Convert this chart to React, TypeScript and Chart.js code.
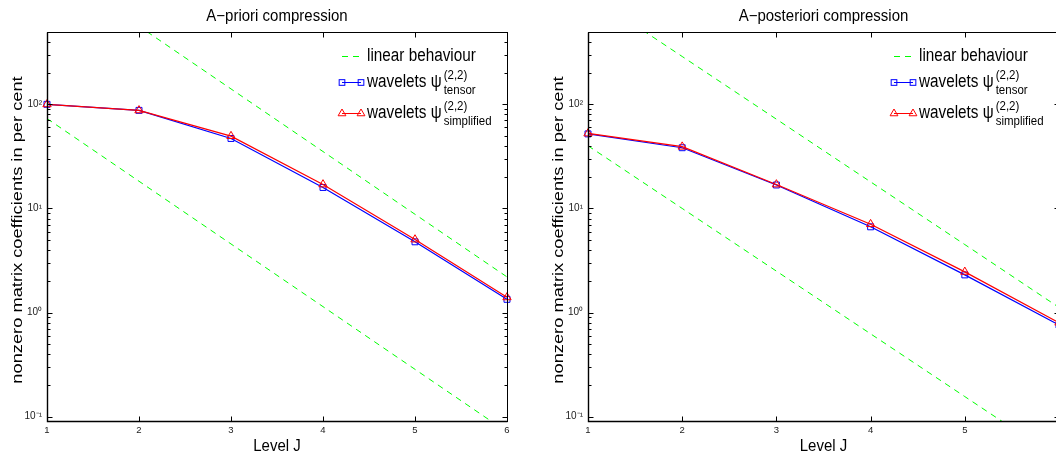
import React, { useEffect, useRef } from 'react';
import { Chart, registerables } from 'chart.js';
Chart.register(...registerables);

// ---------- data ----------
const levels = [1, 2, 3, 4, 5, 6];
const xTickLabels = ['1', '2', '3', '4', '5', '6'];
const yTickValues = [0.1, 1, 10, 100];
const yTickLabels = ['10\u207B\u00B9', '10\u2070', '10\u00B9', '10\u00B2'];

const aprioriTensor = [100, 87.5, 47, 15.9, 4.78, 1.34];
const aprioriSimplified = [100, 87.5, 49.5, 17, 5.03, 1.4];
const aprioriLinearUpper = [2250, 562, 140.6, 35.2, 8.79, 2.2];
const aprioriLinearLower = [73, 18.25, 4.56, 1.14, 0.285, 0.0713];

const aposterioriTensor = [52, 38.3, 16.8, 6.66, 2.3, 0.76];
const aposterioriSimplified = [52.5, 39.2, 17, 7.06, 2.46, 0.8];
const aposterioriLinearUpper = [1150, 288, 72, 18, 4.5, 1.12];
const aposterioriLinearLower = [40, 10, 2.5, 0.625, 0.156, 0.039];

const titles = ['A\u2212priori compression', 'A\u2212posteriori compression'];
const xLabel = 'Level J';
const yLabel = 'nonzero matrix coefficients in per cent';
const legendLinear = 'linear behaviour';
const legendWavelets = 'wavelets \u03C8';
const legendSup = '(2,2)';
const legendSubTensor = 'tensor';
const legendSubSimplified = 'simplified';

const FONT = '"Liberation Sans", Arial, Helvetica, sans-serif';
const BLUE = '#0000ff';
const RED = '#ff0000';
const GREEN = '#00ff00';

function drawText(
  ctx: CanvasRenderingContext2D,
  text: string,
  x: number,
  y: number,
  size: number,
  align: CanvasTextAlign,
  sx = 1,
  sy = 1,
  rot = 0
) {
  ctx.save();
  ctx.translate(x, y);
  if (rot) ctx.rotate(rot);
  ctx.scale(sx, sy);
  ctx.font = `${size}px ${FONT}`;
  ctx.textAlign = align;
  ctx.textBaseline = 'middle';
  ctx.fillStyle = '#000';
  ctx.fillText(text, 0, 0);
  ctx.restore();
}

function measure(ctx: CanvasRenderingContext2D, text: string, size: number, sx = 1) {
  ctx.save();
  ctx.font = `${size}px ${FONT}`;
  const w = ctx.measureText(text).width * sx;
  ctx.restore();
  return w;
}

function drawSquare(ctx: CanvasRenderingContext2D, x: number, y: number, r: number) {
  const s = r * Math.SQRT1_2;
  ctx.strokeRect(x - s, y - s, 2 * s, 2 * s);
}

function drawTriangle(ctx: CanvasRenderingContext2D, x: number, y: number, r: number) {
  ctx.beginPath();
  let a = 0;
  ctx.moveTo(x + Math.sin(a) * r, y - Math.cos(a) * r);
  a += (2 * Math.PI) / 3;
  ctx.lineTo(x + Math.sin(a) * r, y - Math.cos(a) * r);
  a += (2 * Math.PI) / 3;
  ctx.lineTo(x + Math.sin(a) * r, y - Math.cos(a) * r);
  ctx.closePath();
  ctx.stroke();
}

function makeDecor(title: string) {
  return {
    id: 'decor',
    afterDraw(chart: any) {
      const { ctx, chartArea: a, scales } = chart;
      const xs = scales.x;
      const ys = scales.y;
      ctx.save();
      ctx.strokeStyle = '#000';
      ctx.lineWidth = 1;
      ctx.setLineDash([]);
      const L = Math.floor(a.left) + 0.5;
      const R = Math.floor(a.right) + 0.5;
      const T = Math.floor(a.top) + 0.5;
      const B = Math.floor(a.bottom) + 0.5;
      ctx.strokeRect(L, T, R - L, B - T);
      ctx.lineWidth = 1.4;
      ctx.beginPath();
      ctx.moveTo(L, T);
      ctx.lineTo(L, B);
      ctx.lineTo(R, B);
      ctx.stroke();
      ctx.lineWidth = 1;
      ctx.beginPath();
      for (const v of levels) {
        const px = Math.round(xs.getPixelForValue(v)) + 0.5;
        ctx.moveTo(px, B);
        ctx.lineTo(px, B - 5);
        ctx.moveTo(px, T);
        ctx.lineTo(px, T + 5);
      }
      const decades = [0.01, 0.1, 1, 10, 100, 1000];
      for (const d of decades) {
        for (let m = 1; m <= 9; m++) {
          const v = d * m;
          if (v < ys.min || v > ys.max) continue;
          const len = m === 1 ? 5 : 3;
          const py = Math.round(ys.getPixelForValue(v)) + 0.5;
          ctx.moveTo(L, py);
          ctx.lineTo(L + len, py);
          ctx.moveTo(R, py);
          ctx.lineTo(R - len, py);
        }
      }
      ctx.stroke();

      const cx = (a.left + a.right) / 2;
      drawText(ctx, title, cx, 16.7, 15, 'center', 1, 1.05);
      drawText(ctx, xLabel, cx, 446.5, 15, 'center', 1, 1.15);
      drawText(ctx, yLabel, a.left - 29, 230, 14.5, 'center', 1.26, 1, -Math.PI / 2);

      // legend
      const tx = a.right - 140;
      const r1 = a.top + 24;
      const r2 = a.top + 50;
      const r3 = a.top + 81;
      const s0 = tx - 25;
      const s1 = tx - 6;
      ctx.lineWidth = 1;
      ctx.strokeStyle = GREEN;
      ctx.setLineDash([6, 5]);
      ctx.beginPath();
      ctx.moveTo(s0, r1 + 0.5);
      ctx.lineTo(s1, r1 + 0.5);
      ctx.stroke();
      ctx.setLineDash([]);
      ctx.strokeStyle = BLUE;
      ctx.beginPath();
      ctx.moveTo(s0, r2 + 0.5);
      ctx.lineTo(s1, r2 + 0.5);
      ctx.stroke();
      drawSquare(ctx, s0, r2 + 0.5, 4);
      drawSquare(ctx, s1, r2 + 0.5, 4);
      ctx.strokeStyle = RED;
      ctx.beginPath();
      ctx.moveTo(s0, r3 + 0.5);
      ctx.lineTo(s1, r3 + 0.5);
      ctx.stroke();
      drawTriangle(ctx, s0, r3 + 0.5, 4.5);
      drawTriangle(ctx, s1, r3 + 0.5, 4.5);

      const fs = 15.3;
      const sy = 1.15;
      drawText(ctx, legendLinear, tx, r1, fs, 'left', 1, sy);
      const ww = measure(ctx, legendWavelets, fs);
      drawText(ctx, legendWavelets, tx, r2, fs, 'left', 1, sy);
      drawText(ctx, legendSup, tx + ww + 2, r2 - 7, 11.5, 'left', 1, 1.15);
      drawText(ctx, legendSubTensor, tx + ww + 2, r2 + 8, 11.5, 'left', 1, 1.15);
      drawText(ctx, legendWavelets, tx, r3, fs, 'left', 1, sy);
      drawText(ctx, legendSup, tx + ww + 2, r3 - 7, 11.5, 'left', 1, 1.15);
      drawText(ctx, legendSubSimplified, tx + ww + 2, r3 + 8, 11.5, 'left', 1, 1.15);
      ctx.restore();
    },
  };
}

type PanelCfg = {
  title: string;
  tensor: number[];
  simplified: number[];
  upper: number[];
  lower: number[];
};

function pts(vals: number[]) {
  return levels.map((x, i) => ({ x, y: vals[i] }));
}

function buildConfig(cfg: PanelCfg): any {
  return {
    type: 'line',
    data: {
      datasets: [
        {
          label: 'wavelets simplified',
          data: pts(cfg.simplified),
          borderColor: RED,
          borderWidth: 1.2,
          pointStyle: 'triangle',
          pointRadius: 4.8,
          pointBorderColor: RED,
          pointBackgroundColor: 'rgba(0,0,0,0)',
          pointBorderWidth: 1,
          clip: false,
          order: 0,
        },
        {
          label: 'wavelets tensor',
          data: pts(cfg.tensor),
          borderColor: BLUE,
          borderWidth: 1.2,
          pointStyle: 'rect',
          pointRadius: 4.2,
          pointBorderColor: BLUE,
          pointBackgroundColor: 'rgba(0,0,0,0)',
          pointBorderWidth: 1,
          clip: false,
          order: 1,
        },
        {
          label: 'linear behaviour',
          data: pts(cfg.upper),
          borderColor: GREEN,
          borderWidth: 1,
          borderDash: [6, 5],
          pointRadius: 0,
          order: 2,
        },
        {
          label: 'linear behaviour (lower)',
          data: pts(cfg.lower),
          borderColor: GREEN,
          borderWidth: 1,
          borderDash: [6, 5],
          pointRadius: 0,
          order: 3,
        },
      ],
    },
    options: {
      animation: false,
      responsive: false,
      devicePixelRatio: 1,
      layout: { padding: { top: 32, right: 23, bottom: 0, left: 0 } },
      plugins: {
        legend: { display: false },
        title: { display: false },
        tooltip: { enabled: false },
      },
      scales: {
        x: {
          type: 'linear',
          min: 1,
          max: 6,
          grid: { display: false, drawTicks: false },
          border: { display: false },
          ticks: {
            stepSize: 1,
            padding: 4,
            color: '#222',
            font: { size: 9.5, family: FONT },
            callback: (v: number) => {
              const i = levels.indexOf(v);
              return i >= 0 ? xTickLabels[i] : '';
            },
          },
          afterFit: (s: any) => {
            s.height = 34;
          },
        },
        y: {
          type: 'logarithmic',
          min: 0.0909,
          max: 495,
          grid: { display: false, drawTicks: false },
          border: { display: false },
          afterBuildTicks: (s: any) => {
            s.ticks = yTickValues.map((v) => ({ value: v }));
          },
          ticks: {
            padding: 5,
            color: '#222',
            font: { size: 10, family: FONT },
            callback: (v: number) => {
              const i = yTickValues.indexOf(v);
              return i >= 0 ? yTickLabels[i] : '';
            },
          },
          afterFit: (s: any) => {
            s.width = 47;
          },
        },
      },
    },
    plugins: [makeDecor(cfg.title)],
  };
}

function Panel({ left, width, cfg }: { left: number; width: number; cfg: PanelCfg }) {
  const ref = useRef<HTMLCanvasElement>(null);
  useEffect(() => {
    const chart = new Chart(ref.current as HTMLCanvasElement, buildConfig(cfg));
    return () => chart.destroy();
  }, []);
  return (
    <canvas
      ref={ref}
      width={width}
      height={455}
      style={{ position: 'absolute', left, top: 0, width, height: 455 }}
    />
  );
}

export default function App() {
  return (
    <div
      style={{
        position: 'fixed',
        left: 0,
        top: 0,
        width: 1056,
        height: 455,
        overflow: 'hidden',
        background: '#fff',
      }}
    >
      <Panel
        left={0}
        width={530}
        cfg={{
          title: titles[0],
          tensor: aprioriTensor,
          simplified: aprioriSimplified,
          upper: aprioriLinearUpper,
          lower: aprioriLinearLower,
        }}
      />
      <Panel
        left={541}
        width={541}
        cfg={{
          title: titles[1],
          tensor: aposterioriTensor,
          simplified: aposterioriSimplified,
          upper: aposterioriLinearUpper,
          lower: aposterioriLinearLower,
        }}
      />
    </div>
  );
}
